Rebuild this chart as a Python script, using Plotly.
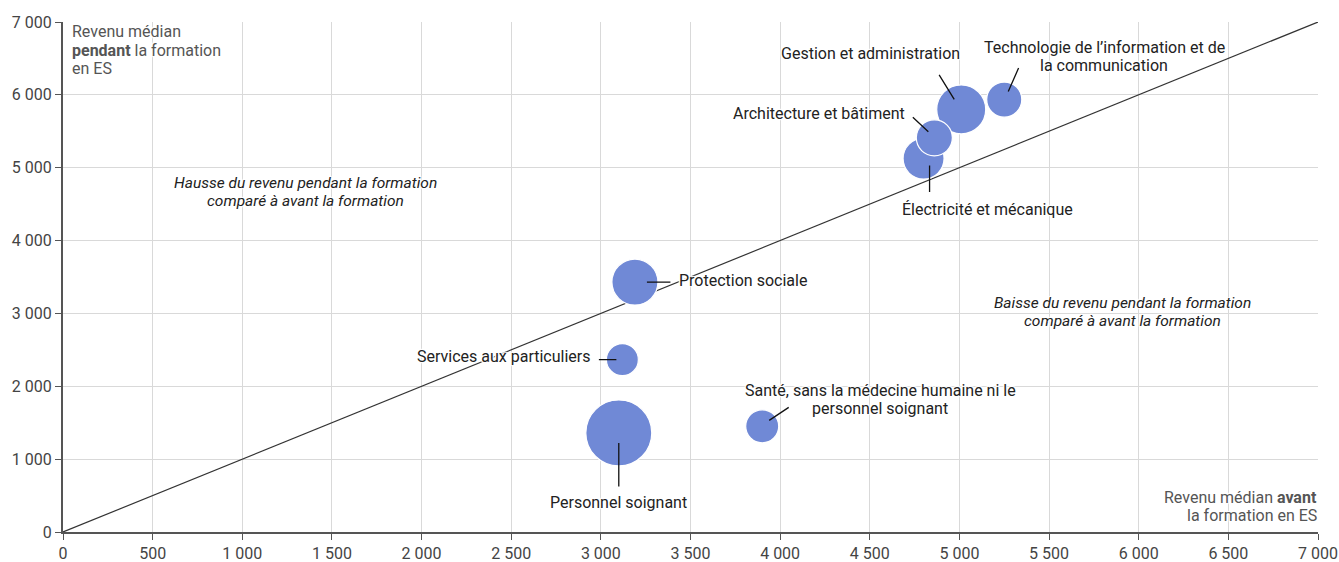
import plotly.graph_objects as go

# ---------------- data ----------------
categories = [
    "Personnel soignant",
    "Santé, sans la médecine humaine ni le<br>personnel soignant",
    "Services aux particuliers",
    "Protection sociale",
    "Électricité et mécanique",
    "Architecture et bâtiment",
    "Gestion et administration",
    "Technologie de l’information et de<br>la communication",
]
revenu_avant = [3100, 3900, 3120, 3190, 4800, 4860, 5010, 5250]
revenu_pendant = [1360, 1450, 2365, 3430, 5125, 5410, 5800, 5935]
effectif = [4350, 1090, 1020, 2120, 1680, 1300, 2400, 1230]

x_ticks = list(range(0, 7001, 500))
y_ticks = list(range(0, 7001, 1000))
diag = [0, 7000]

# ---------------- label layout (pixel offsets from bubble centre) ----------------
label_style = {
    "Personnel soignant": dict(head=(0, 10), tail=(0, 55), lab=(0, 70), xa="center"),
    "Santé, sans la médecine humaine ni le<br>personnel soignant": dict(head=(7, -6), tail=(28, -20), lab=(118, -27), xa="center"),
    "Services aux particuliers": dict(head=(-6, 0), tail=(-25, 0), lab=(-30, -3), xa="right"),
    "Protection sociale": dict(head=(12, 0), tail=(37, 0), lab=(42, -2), xa="left"),
    "Électricité et mécanique": dict(head=(6, 7), tail=(6, 35), lab=(64, 51), xa="center"),
    "Architecture et bâtiment": dict(head=(-6, -6), tail=(-23, -22), lab=(-27, -24), xa="right"),
    "Gestion et administration": dict(head=(-7, -10), tail=(-23, -36), lab=(-91, -56), xa="center"),
    "Technologie de l’information et de<br>la communication": dict(head=(4, -8), tail=(15, -33), lab=(100, -43), xa="center"),
}

BUBBLE = "#7089d6"
FONT = "Roboto"
FS = 16
LH = 18.5  # line height of multi-line texts
HALO = "-1px -1px 1px white, 1px 1px 1px white, 1px -1px 1px white, -1px 1px 1px white, 0 0 3px white"

# biggest bubbles first so smaller ones are drawn on top
order = sorted(range(len(categories)), key=lambda i: -effectif[i])

fig = go.Figure()

fig.add_trace(go.Scatter(
    x=diag, y=diag, mode="lines",
    line=dict(color="#333333", width=1.2),
    hoverinfo="skip", showlegend=False,
))

fig.add_trace(go.Scatter(
    x=[revenu_avant[i] for i in order],
    y=[revenu_pendant[i] for i in order],
    text=[categories[i].replace("<br>", " ") for i in order],
    mode="markers",
    marker=dict(
        size=[effectif[i] for i in order],
        sizemode="area",
        sizeref=2,
        color=BUBBLE,
        opacity=1,
        line=dict(color="white", width=1.2),
    ),
    hovertemplate="%{text}<br>%{x}<br>%{y}<extra></extra>",
    showlegend=False,
))

annotations = []


def add_text(x, y, xref, yref, text, xanchor, xshift, yshift_first, font):
    """Write text line by line (custom line height). yshift_first = centre of first line."""
    for k, line in enumerate(text.split("<br>")):
        annotations.append(dict(
            x=x, y=y, xref=xref, yref=yref, text=line, showarrow=False,
            xanchor=xanchor, yanchor="middle", xshift=xshift,
            yshift=yshift_first - k * LH, font=font,
        ))


label_font = dict(family=FONT, size=FS, color="#222222", shadow=HALO)
for i, cat in enumerate(categories):
    st = label_style[cat]
    hx, hy = st["head"]
    tx, ty = st["tail"]
    lx, ly = st["lab"]
    annotations.append(dict(
        x=revenu_avant[i], y=revenu_pendant[i], xref="x", yref="y",
        text="", showarrow=True, arrowhead=0, arrowwidth=1.3, arrowcolor="#111111",
        xshift=hx, yshift=-hy, ax=tx - hx, ay=ty - hy, standoff=0, startstandoff=0,
    ))
    n = len(cat.split("<br>"))
    add_text(revenu_avant[i], revenu_pendant[i], "x", "y", cat, st["xa"], lx,
             -ly + (n - 1) * LH / 2, label_font)

italic_font = dict(family=FONT, size=15.5, color="#222222", style="italic", shadow=HALO)
add_text(1350, 4667, "x", "y",
         "Hausse du revenu pendant la formation<br>comparé à avant la formation",
         "center", 0, 9.25, italic_font)
add_text(5907, 3020, "x", "y",
         "Baisse du revenu pendant la formation<br>comparé à avant la formation",
         "center", 0, 9.25, italic_font)

title_font = dict(family=FONT, size=FS, color="#555555", shadow=HALO)
add_text(0, 1, "paper", "paper",
         "Revenu médian<br><b>pendant</b> la formation<br>en ES",
         "left", 7, -9.5, title_font)
add_text(1, 0, "paper", "paper",
         "Revenu médian <b>avant</b><br>la formation en ES",
         "right", 1, 35, title_font)

axis_common = dict(
    showgrid=True, gridcolor="#d9d9d9", gridwidth=1,
    showline=True, linecolor="#555555", linewidth=2,
    ticks="outside", ticklen=6, tickcolor="#555555", tickwidth=1,
    tickfont=dict(family=FONT, size=FS, color="#444444"),
    tickformat=",d", zeroline=False, automargin=False,
)

fig.update_layout(
    width=1339, height=562,
    margin=dict(l=63, r=21, t=22, b=30),
    paper_bgcolor="white", plot_bgcolor="white",
    separators=", ",
    font=dict(family=FONT, size=FS, color="#222222"),
    xaxis=dict(range=[0, 7000], tickvals=x_ticks, **axis_common),
    yaxis=dict(range=[0, 7000], tickvals=y_ticks, **axis_common),
    annotations=annotations,
    showlegend=False,
)

# remove the default 8px page margin so the figure fills the window exactly
fig.write_html(
    "out.html",
    config={"displayModeBar": False},
    post_script="document.body.style.margin='0';document.body.style.overflow='hidden';",
)
